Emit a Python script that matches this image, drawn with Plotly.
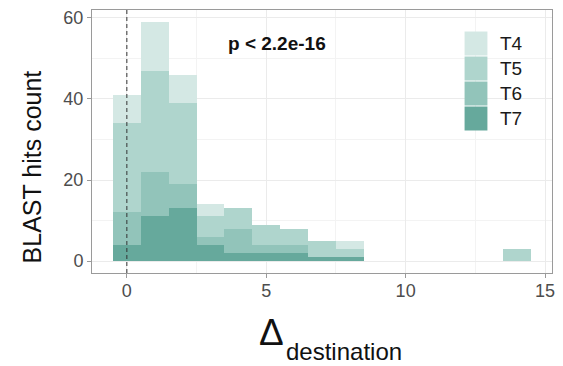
import plotly.graph_objects as go

# ---- data ----
bins = [0, 1, 2, 3, 4, 5, 6, 7, 8, 14]
t7 = [4, 11, 13, 4, 2, 2, 2, 1, 1, 0]
t6 = [8, 11, 6, 2, 6, 2, 2, 0, 0, 0]
t5 = [22, 25, 20, 5, 5, 5, 4, 4, 2, 3]
t4 = [7, 12, 7, 3, 0, 0, 0, 0, 2, 0]
series_names = ["T4", "T5", "T6", "T7"]
series_vals = {"T4": t4, "T5": t5, "T6": t6, "T7": t7}
colors = {"T4": "#d4e8e4", "T5": "#afd5cd", "T6": "#92c4ba", "T7": "#66a99c"}
x_ticks = [0, 5, 10, 15]
y_ticks = [0, 20, 40, 60]
p_label = "p < 2.2e-16"

# ---- geometry ----
W, H = 563, 366
L, R, T, B = 92, 555, 10, 273
PW, PH = R - L, B - T
FONT = "Liberation Sans, Arial, sans-serif"


def px(xp):
    return (xp - L) / PW


def py(yp):
    return (B - yp) / PH


fig = go.Figure()
for name in ["T7", "T6", "T5", "T4"]:
    fig.add_trace(go.Bar(
        x=bins, y=series_vals[name], width=1, name=name,
        marker=dict(color=colors[name], line=dict(width=0)),
        showlegend=False,
    ))

fig.add_vline(x=0, line=dict(color="#333333", width=1, dash="4px,3px"))

fig.add_annotation(x=5.4, y=53.6, xref="x", yref="y", text="<b>" + p_label + "</b>",
                   showarrow=False, font=dict(family=FONT, size=19, color="#111111"))

# manual legend
for i, name in enumerate(series_names):
    top = 31.5 + 25 * i
    fig.add_shape(type="rect", xref="paper", yref="paper",
                  x0=px(467), x1=px(490), y0=py(top + 24), y1=py(top),
                  fillcolor=colors[name], line=dict(width=0))
    fig.add_annotation(xref="paper", yref="paper", x=px(501), y=py(top + 12),
                       xanchor="left", yanchor="middle", text=name, showarrow=False,
                       font=dict(family=FONT, size=19, color="#1a1a1a"))

# axis titles
fig.add_annotation(xref="paper", yref="paper", x=px(32), y=py(167), textangle=-90,
                   text="BLAST hits count", showarrow=False,
                   xanchor="center", yanchor="middle",
                   font=dict(family=FONT, size=25, color="#111111"))
fig.add_annotation(xref="paper", yref="paper", x=px(258), y=py(332),
                   text="Δ", showarrow=False, xanchor="left", yanchor="middle",
                   font=dict(family=FONT, size=37, color="#111111"))
fig.add_annotation(xref="paper", yref="paper", x=px(285), y=py(351),
                   text="destination", showarrow=False, xanchor="left", yanchor="middle",
                   font=dict(family=FONT, size=24, color="#111111"))

axis_common = dict(
    showline=True, mirror=True, linecolor="#9a9a9a", linewidth=1,
    ticks="outside", ticklen=4, tickcolor="#9a9a9a", tickwidth=1,
    showgrid=True, gridcolor="#ebebeb", gridwidth=1, zeroline=False,
    tickfont=dict(family=FONT, size=18, color="#4d4d4d"),
)

fig.update_layout(
    width=W, height=H, barmode="stack", bargap=0,
    margin=dict(l=L, r=W - R, t=T, b=H - B),
    paper_bgcolor="white", plot_bgcolor="white",
    xaxis=dict(range=[-1.25, 15.25], tickvals=x_ticks, ticklabelstandoff=-3,
               minor=dict(tickvals=[2.5, 7.5, 12.5], showgrid=True,
                          gridcolor="#f3f3f3", gridwidth=1, ticklen=0),
               **axis_common),
    yaxis=dict(range=[-2.95, 61.95], tickvals=y_ticks,
               minor=dict(tickvals=[10, 30, 50], showgrid=True,
                          gridcolor="#f3f3f3", gridwidth=1, ticklen=0),
               **axis_common),
    showlegend=False,
)

fig.write_html("out.html")
